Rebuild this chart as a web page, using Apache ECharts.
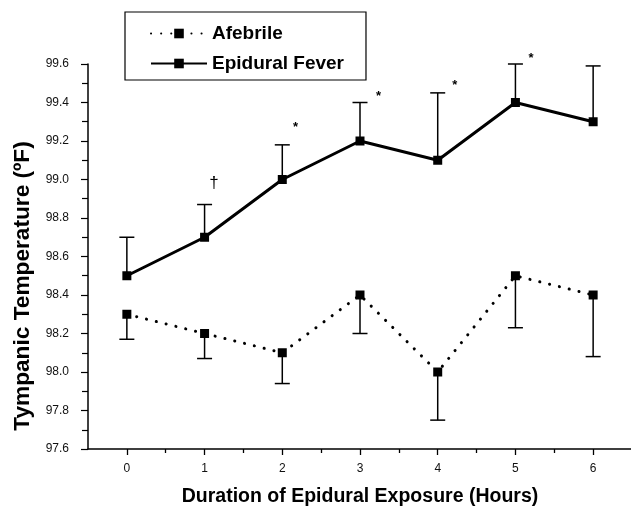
<!DOCTYPE html>
<html>
<head>
<meta charset="utf-8">
<script src="https://cdn.jsdelivr.net/npm/echarts@6/dist/echarts.min.js"></script>
<style>html,body{margin:0;padding:0;background:#fff}#c{width:631px;height:506px}</style>
</head>
<body>
<div id="c"></div>
<script>
const hours = [0, 1, 2, 3, 4, 5, 6];
const afebrileMean = [98.3, 98.2, 98.1, 98.4, 98.0, 98.5, 98.4];
const afebrileLower = [98.17, 98.07, 97.94, 98.2, 97.75, 98.23, 98.08];
const feverMean = [98.5, 98.7, 99.0, 99.2, 99.1, 99.4, 99.3];
const feverUpper = [98.7, 98.87, 99.18, 99.4, 99.45, 99.6, 99.59];
const annotX = [1.12, 2.17, 3.24, 4.22, 5.2];
const annotY = [98.98, 99.27, 99.43, 99.49, 99.63];
const annotText = ['†', '*', '*', '*', '*'];
const xMajorTicks = [0, 1, 2, 3, 4, 5, 6];
const xMinorTicks = [0.5, 1.5, 2.5, 3.5, 4.5, 5.5, 6.5];

const FONT = 'Liberation Sans, Arial, Helvetica, sans-serif';

function errBar(params, api) {
  const x = api.value(0), m = api.value(1), e = api.value(2);
  const p1 = api.coord([x, m]);
  const p2 = api.coord([x, e]);
  const hw = 7.5;
  const st = { stroke: '#000', lineWidth: 1.5 };
  return {
    type: 'group',
    children: [
      { type: 'line', shape: { x1: p1[0], y1: p1[1], x2: p2[0], y2: p2[1] }, style: st },
      { type: 'line', shape: { x1: p2[0] - hw, y1: p2[1], x2: p2[0] + hw, y2: p2[1] }, style: st }
    ]
  };
}

const chart = echarts.init(document.getElementById('c'), null, { renderer: 'canvas' });
chart.setOption({
  animation: false,
  backgroundColor: '#fff',
  textStyle: { fontFamily: FONT },
  grid: { left: 88, top: 64, width: 544, height: 385, containLabel: false, outerBoundsMode: 'none' },
  legend: {
    left: 125, top: 12,
    orient: 'vertical',
    data: ['Afebrile', 'Epidural Fever'],
    borderColor: '#000', borderWidth: 1.2,
    padding: [12, 22, 7, 25],
    itemGap: 11,
    itemWidth: 56, itemHeight: 12,
    textStyle: { fontFamily: FONT, fontSize: 19, fontWeight: 'bold', color: '#000' }
  },
  xAxis: [{
    type: 'value', min: -0.5, max: 6.5,
    name: 'Duration of Epidural Exposure (Hours)',
    nameLocation: 'middle', nameGap: 38,
    nameTextStyle: { fontFamily: FONT, fontSize: 19.5, fontWeight: 'bold', color: '#000' },
    axisLine: { onZero: false, lineStyle: { color: '#000', width: 1.5 } },
    axisTick: { show: true, customValues: xMajorTicks, length: 6, lineStyle: { color: '#000', width: 1.3 } },
    axisLabel: { customValues: xMajorTicks, color: '#111', fontSize: 12, margin: 14, fontFamily: FONT },
    splitLine: { show: false }
  }, {
    type: 'value', min: -0.5, max: 6.5, position: 'bottom',
    axisLine: { show: false, onZero: false },
    axisTick: { show: true, customValues: xMinorTicks, length: 4, lineStyle: { color: '#000', width: 1.3 } },
    axisLabel: { show: false },
    splitLine: { show: false }
  }],
  yAxis: {
    type: 'value', min: 97.6, max: 99.6, interval: 0.2,
    axisLine: { show: true, onZero: false, lineStyle: { color: '#000', width: 1.5 } },
    axisTick: { show: true, length: 7, lineStyle: { color: '#000', width: 1.2 } },
    minorTick: { show: true, splitNumber: 2, length: 6, lineStyle: { color: '#000', width: 1.2 } },
    axisLabel: { color: '#111', fontSize: 12, margin: 19, fontFamily: FONT, formatter: v => v.toFixed(1) },
    splitLine: { show: false }
  },
  graphic: [{
    type: 'text', x: 23, y: 286, rotation: Math.PI / 2, scaleX: 1.03,
    style: {
      text: 'Tympanic Temperature (ºF)', fill: '#000',
      font: 'bold 22px ' + FONT, textAlign: 'center', textVerticalAlign: 'middle'
    }
  }],
  series: [
    {
      name: 'AfebrileErr', type: 'custom', renderItem: errBar, z: 1,
      data: hours.map((h, i) => [h, afebrileMean[i], afebrileLower[i]])
    },
    {
      name: 'FeverErr', type: 'custom', renderItem: errBar, z: 1,
      data: hours.map((h, i) => [h, feverMean[i], feverUpper[i]])
    },
    {
      name: 'Afebrile', type: 'line', z: 3,
      data: hours.map((h, i) => [h, afebrileMean[i]]),
      symbol: 'rect', symbolSize: 9,
      itemStyle: { color: '#000' },
      lineStyle: { color: '#000', width: 3, type: [0.1, 10], cap: 'round' }
    },
    {
      name: 'Epidural Fever', type: 'line', z: 3,
      data: hours.map((h, i) => [h, feverMean[i]]),
      symbol: 'rect', symbolSize: 9,
      itemStyle: { color: '#000' },
      lineStyle: { color: '#000', width: 3, type: 'solid' }
    },
    {
      name: 'Annot', type: 'custom', z: 4,
      data: annotX.map((x, i) => [x, annotY[i], i]),
      renderItem: (params, api) => {
        const p = api.coord([api.value(0), api.value(1)]);
        const t = annotText[api.value(2)];
        return {
          type: 'text', x: p[0], y: p[1],
          style: { text: t, fill: '#000', font: (t === '†' ? '17px ' : 'bold 13px ') + FONT, textAlign: 'center', textVerticalAlign: 'middle' }
        };
      }
    }
  ]
});
</script>
</body>
</html>
